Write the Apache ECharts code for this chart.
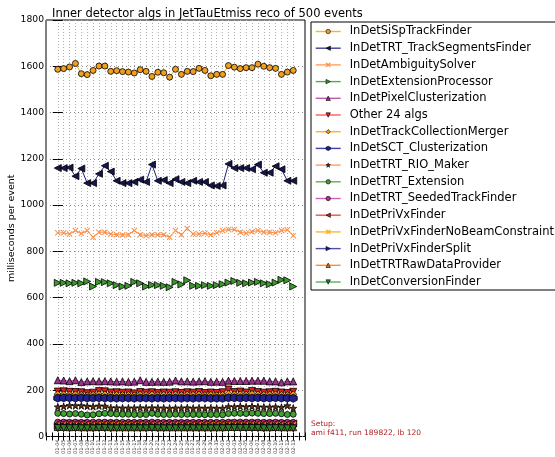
<!DOCTYPE html>
<html><head><meta charset="utf-8">
<script src="https://cdn.jsdelivr.net/npm/echarts@6/dist/echarts.min.js"></script>
<style>html,body{margin:0;padding:0;background:#fff}#c{width:555px;height:457px}</style>
</head><body><div id="c"></div>
<script>
const categories = ['01-04','01-05','01-06','01-07','01-08','01-09','01-10','01-11','01-12','01-13','01-14','01-15','01-16','01-17','01-18','01-19','01-20','01-21','01-22','01-23','01-24','01-25','01-26','01-27','01-28','01-29','01-30','01-31','02-01','02-02','02-03','02-04','02-05','02-06','02-07','02-08','02-09','02-10','02-11','02-12','02-13'];
const yTickValues = [0,200,400,600,800,1000,1200,1400,1600,1800];

const siSpTrackFinder = [1587,1590,1597,1612,1568,1564,1582,1601,1601,1578,1581,1577,1575,1571,1585,1578,1556,1574,1572,1553,1587,1565,1578,1577,1591,1582,1559,1565,1565,1603,1596,1590,1594,1594,1609,1600,1594,1591,1565,1575,1582];
const trtTrackSegmentsFinder = [1160,1160,1162,1125,1158,1095,1095,1135,1170,1145,1105,1095,1095,1100,1110,1100,1175,1105,1108,1095,1112,1100,1095,1105,1100,1100,1085,1083,1085,1178,1160,1160,1160,1155,1175,1140,1140,1168,1155,1105,1105];
const ambiguitySolver = [880,880,875,890,877,890,861,883,883,875,872,871,872,890,872,868,872,872,872,861,890,872,899,875,875,878,872,880,890,894,894,883,878,885,890,883,883,880,890,893,868];
const extensionProcessor = [664,664,662,664,662,670,648,668,667,662,654,648,651,668,662,648,655,654,651,645,668,657,675,651,651,654,651,654,658,665,672,664,662,665,668,662,658,665,677,675,648];
const pixelClusterization = [243,242,239,243,235,238,239,238,239,238,237,238,236,237,243,236,236,237,236,237,242,238,238,237,238,239,236,237,236,241,240,240,240,241,241,241,238,238,234,238,238];
const otherAlgs = [194,195,193,192,191,187,189,196,195,190,191,189,190,186,192,189,191,188,190,189,191,188,191,189,192,188,190,188,191,203,192,194,190,197,192,189,191,193,190,188,193];
const trackCollectionMerger = [183,182,181,182,180,178,180,183,182,179,180,179,180,178,181,180,181,179,180,179,181,179,181,180,181,179,180,178,180,185,182,182,181,184,182,180,181,182,180,179,182];
const sctClusterization = [166,167,167,166,167,166,166,167,166,166,165,166,166,165,166,166,165,166,165,166,166,165,166,165,166,166,165,165,165,167,167,166,167,166,167,166,166,167,166,166,165];
const trtRioMaker = [128,130,134,133,133,131,129,132,131,124,124,123,123,123,124,123,124,123,123,122,123,123,124,122,123,122,123,122,122,129,128,130,128,130,128,127,127,128,126,133,122];
const trtExtension = [100,99,97,99,96,93,94,98,100,99,97,96,96,95,95,95,100,96,95,95,96,95,96,95,95,94,95,95,94,99,100,100,99,101,100,99,99,100,98,95,96];
const trtSeededTrackFinder = [62,62,61,62,61,61,62,62,62,61,61,61,61,61,61,61,62,61,61,61,61,61,61,61,61,61,61,61,61,62,62,62,62,62,62,61,61,62,61,61,61];
const priVxFinder = [56,57,56,56,56,55,55,56,56,56,55,55,55,55,56,55,56,55,55,55,56,55,56,55,56,55,55,55,55,57,56,56,56,57,56,56,56,56,55,55,56];
const priVxNoBeam = [51,51,50,51,50,50,50,51,51,50,50,50,50,50,51,50,50,50,50,50,51,50,50,50,50,50,50,50,50,51,51,51,51,51,51,50,50,51,50,50,50];
const priVxSplit = [45,46,45,45,45,44,44,45,45,45,44,44,44,44,45,44,45,44,44,44,45,44,45,44,45,44,44,44,44,46,45,45,45,45,45,45,45,45,44,44,45];
const trtRawDataProvider = [41,41,40,41,40,40,40,41,41,40,40,40,40,40,40,40,41,40,40,40,40,40,40,40,40,40,40,40,40,41,41,41,41,41,41,40,40,41,40,40,40];
const conversionFinder = [36,36,35,36,35,35,35,36,36,35,35,35,35,35,35,35,36,35,35,35,35,35,35,35,35,35,35,35,35,36,36,36,36,36,36,35,35,36,35,35,35];

const seriesNames = ['InDetSiSpTrackFinder','InDetTRT_TrackSegmentsFinder','InDetAmbiguitySolver','InDetExtensionProcessor','InDetPixelClusterization','Other 24 algs','InDetTrackCollectionMerger','InDetSCT_Clusterization','InDetTRT_RIO_Maker','InDetTRT_Extension','InDetTRT_SeededTrackFinder','InDetPriVxFinder','InDetPriVxFinderNoBeamConstraint','InDetPriVxFinderSplit','InDetTRTRawDataProvider','InDetConversionFinder'];
const seriesValues = [siSpTrackFinder,trtTrackSegmentsFinder,ambiguitySolver,extensionProcessor,pixelClusterization,otherAlgs,trackCollectionMerger,sctClusterization,trtRioMaker,trtExtension,trtSeededTrackFinder,priVxFinder,priVxNoBeam,priVxSplit,trtRawDataProvider,conversionFinder];

const X = 'path://M0,1.2L1.2,0L5,3.8L8.8,0L10,1.2L6.2,5L10,8.8L8.8,10L5,6.2L1.2,10L0,8.8L3.8,5Z';
const STAR = 'path://M5,0L6.2,3.8L10,3.8L7,6.2L8.1,10L5,7.6L1.9,10L3,6.2L0,3.8L3.8,3.8Z';
const HEX = 'path://M5,0L9.33,2.5L9.33,7.5L5,10L0.67,7.5L0.67,2.5Z';
const styles = [
  {line:'#FFA500', fill:'#F0A020', sym:'circle', rot:0, size:6},
  {line:'#1c1c80', fill:'#151550', sym:'triangle', rot:90, size:7},
  {line:'#FF8C40', fill:'#FF8C40', sym:X, rot:0, size:6, noEdge:true},
  {line:'#3c9a2c', fill:'#3c9a2c', sym:'triangle', rot:-90, size:7},
  {line:'#B040A0', fill:'#A03090', sym:'triangle', rot:0, size:7},
  {line:'#FF4040', fill:'#E02020', sym:'triangle', rot:180, size:7},
  {line:'#FFA500', fill:'#F0A000', sym:'diamond', rot:0, size:7},
  {line:'#2020A0', fill:'#202090', sym:HEX, rot:0, size:8},
  {line:'#FF8C40', fill:'#603010', sym:STAR, rot:0, size:7},
  {line:'#4AA030', fill:'#40A030', sym:'circle', rot:0, size:6},
  {line:'#CC44AA', fill:'#B03090', sym:'circle', rot:0, size:6},
  {line:'#EE3030', fill:'#D02020', sym:'triangle', rot:90, size:7},
  {line:'#FFAA00', fill:'#FFAA00', sym:X, rot:0, size:6, noEdge:true},
  {line:'#3030A0', fill:'#202080', sym:'triangle', rot:-90, size:7},
  {line:'#FF7F0E', fill:'#E07010', sym:'triangle', rot:0, size:7},
  {line:'#40A040', fill:'#308030', sym:'triangle', rot:180, size:7}
];

const xIdx = categories.map((c,i)=>i);
const xMin = -2, xMax = categories.length + 1;
const splitColors = [];
for (let v = xMin; v <= xMax; v++) splitColors.push((v >= 0 && v < categories.length) ? '#b0b0b0' : 'rgba(0,0,0,0)');

const series = seriesNames.map((name, k) => ({
  name, type:'line',
  data: seriesValues[k].map((v,i)=>[xIdx[i], v]),
  symbol: styles[k].sym, symbolRotate: styles[k].rot, symbolSize: styles[k].size,
  lineStyle: {color: styles[k].line, width: 1},
  itemStyle: {color: styles[k].fill, borderColor: styles[k].noEdge ? styles[k].fill : '#000', borderWidth: styles[k].noEdge ? 0 : 0.8},
  emphasis: {disabled: true}, animation: false, z: 2 + k * 0.01
}));

const FONT = 'DejaVu Sans';
const chart = echarts.init(document.getElementById('c'), null, {renderer:'canvas'});
chart.setOption({
  animation: false,
  textStyle: {fontFamily: FONT},
  title: {text: 'Inner detector algs in JetTauEtmiss reco of 500 events', left: 47, top: 3,
    textStyle: {fontFamily: FONT, fontSize: 11.5, fontWeight: 'normal', color: '#000'}},
  grid: {left: 46, right: 250, top: 20, bottom: 20, show: true, borderColor: '#000', borderWidth: 1, containLabel: false},
  legend: {orient: 'vertical', left: 311, top: 22, data: seriesNames,
    itemWidth: 25, itemHeight: 5.5, itemGap: 4.7,
    lineStyle: {width: 1.4, opacity: 0.85},
    itemStyle: {borderWidth: 0.6},
    borderColor: '#000', borderWidth: 1, backgroundColor: '#fff', padding: [3.5, 5, 2, 4],
    textStyle: {fontFamily: FONT, fontSize: 11.5, color: '#000', padding: [0,0,0,4]}},
  xAxis: [{type: 'value', min: xMin, max: xMax, interval: 1,
    axisLine: {show: false},
    axisTick: {show: true, inside: true, length: 4, lineStyle: {color: '#000'}},
    axisLabel: {rotate: 90, fontSize: 5, color: '#333', margin: 3,
      formatter: v => (v >= 0 && v < categories.length) ? categories[v] : ''},
    splitLine: {show: true, lineStyle: {type: [1, 2], color: splitColors, width: 1}}},
    {type: 'value', position: 'top', min: xMin, max: xMax, interval: 1,
    axisLine: {show: false}, axisLabel: {show: false}, splitLine: {show: false},
    axisTick: {show: true, inside: true, length: 4, lineStyle: {color: '#000'}}}],
  yAxis: [{type: 'value', min: yTickValues[0], max: yTickValues[yTickValues.length-1], interval: yTickValues[1]-yTickValues[0],
    name: 'milliseconds per event', nameLocation: 'middle', nameGap: 28.5,
    nameTextStyle: {fontFamily: FONT, fontSize: 9.5, color: '#000'},
    axisLine: {show: false},
    axisTick: {show: true, inside: true, length: 5, lineStyle: {color: '#000'}},
    axisLabel: {fontSize: 9.2, color: '#000', margin: 2, formatter: v => String(v)},
    splitLine: {show: true, lineStyle: {type: [1, 3], color: '#888'}}},
    {type: 'value', position: 'right', min: yTickValues[0], max: yTickValues[yTickValues.length-1], interval: yTickValues[1]-yTickValues[0],
    axisLine: {show: false}, axisLabel: {show: false}, splitLine: {show: false},
    axisTick: {show: true, inside: true, length: 5, lineStyle: {color: '#000'}}}],
  graphic: [{type: 'text', left: 311, top: 420,
    style: {text: 'Setup:\nami f411, run 189822, lb 120', fill: '#B22222', fontSize: 7.5, fontFamily: FONT, lineHeight: 9}}],
  series
});
</script></body></html>
